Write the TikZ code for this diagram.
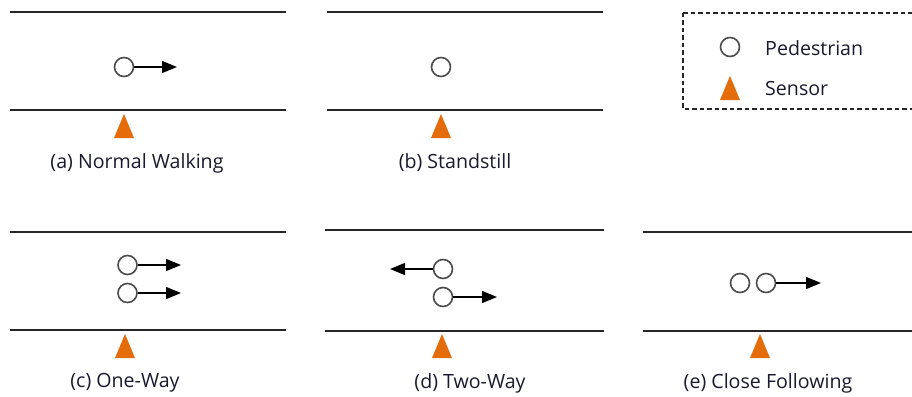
\documentclass[tikz,border=0pt]{standalone}
\usepackage{fontspec}
\setmainfont{Open Sans}
\usetikzlibrary{arrows.meta,calc}
\definecolor{sensorc}{HTML}{E46C0A}
\definecolor{txtc}{HTML}{1A1A2E}
\begin{document}
\begin{tikzpicture}[x=1pt,y=-1pt,
  road/.style={draw=black!85,line width=1.5pt},
  ped/.style={circle,draw=black!70,fill=white,line width=1.6pt,minimum size=19pt,inner sep=0pt},
  walk/.style={draw=black,line width=1.3pt,-{Triangle[length=15pt,width=12pt]}},
  lbl/.style={font=\fontsize{19.6pt}{22pt}\selectfont,text=txtc,inner sep=0pt}]
\useasboundingbox (0,0) rectangle (912,396);
\tikzset{sens/.pic={\fill[sensorc] (0,0) -- (10,24) -- (-10,24) -- cycle;}}

% (a)
\coordinate (a1) at (10,12); \coordinate (a2) at (286,12);
\coordinate (a3) at (10,110); \coordinate (a4) at (286,110);
\draw[road] (a1) -- (a2); \draw[road] (a3) -- (a4);
\node[ped] (pa) at (124,67) {};
\coordinate (ta) at (177,67);
\draw[walk] (pa) -- (ta);
\pic at (124,114) {sens};
\node[lbl] (la) at (137,163) {(a) Normal Walking};

% (b)
\coordinate (b1) at (327,12); \coordinate (b2) at (603,12);
\coordinate (b3) at (327,110); \coordinate (b4) at (603,110);
\draw[road] (b1) -- (b2); \draw[road] (b3) -- (b4);
\node[ped] (pb) at (441,67) {};
\pic at (441,114) {sens};
\node[lbl] (lb) at (455,163) {(b) Standstill};

% legend
\draw[black!85,line width=1.2pt,dash pattern=on 4.5pt off 3pt] (683,13) -- (912,13)
  (683,13) -- (683,109) -- (912,109);
\node[ped] (lp) at (730,47) {};
\node[lbl,anchor=west] (lpt) at (765,48) {Pedestrian};
\pic at (730,76) {sens};
\node[lbl,anchor=west] (lst) at (765,88) {Sensor};

% (c)
\coordinate (c1) at (10,232); \coordinate (c2) at (286,232);
\coordinate (c3) at (10,330); \coordinate (c4) at (286,330);
\draw[road] (c1) -- (c2); \draw[road] (c3) -- (c4);
\node[ped] (pc1) at (127.5,265) {};
\node[ped] (pc2) at (127.5,293) {};
\coordinate (tc1) at (181,265); \coordinate (tc2) at (181,293);
\draw[walk] (pc1) -- (tc1);
\draw[walk] (pc2) -- (tc2);
\pic at (125,334) {sens};
\node[lbl] (lc) at (125,383) {(c) One-Way};

% (d)
\coordinate (d1) at (325,230); \coordinate (d2) at (604,230);
\coordinate (d3) at (325,331); \coordinate (d4) at (604,331);
\draw[road] (d1) -- (d2); \draw[road] (d3) -- (d4);
\node[ped] (pd1) at (443,269) {};
\node[ped] (pd2) at (443,297) {};
\coordinate (td1) at (390,269); \coordinate (td2) at (497,297);
\draw[walk] (pd1) -- (td1);
\draw[walk] (pd2) -- (td2);
\pic at (442,334) {sens};
\node[lbl] (ld) at (470,383) {(d) Two-Way};

% (e)
\coordinate (e1) at (643,232); \coordinate (e2) at (912,232);
\coordinate (e3) at (643,331); \coordinate (e4) at (912,331);
\draw[road] (e1) -- (e2); \draw[road] (e3) -- (e4);
\node[ped] (pe1) at (740,283) {};
\node[ped] (pe2) at (766,283) {};
\coordinate (te) at (821,283);
\draw[walk] (pe2) -- (te);
\pic at (760,334) {sens};
\node[lbl] (le) at (768,383) {(e) Close Following};
\end{tikzpicture}
\end{document}
